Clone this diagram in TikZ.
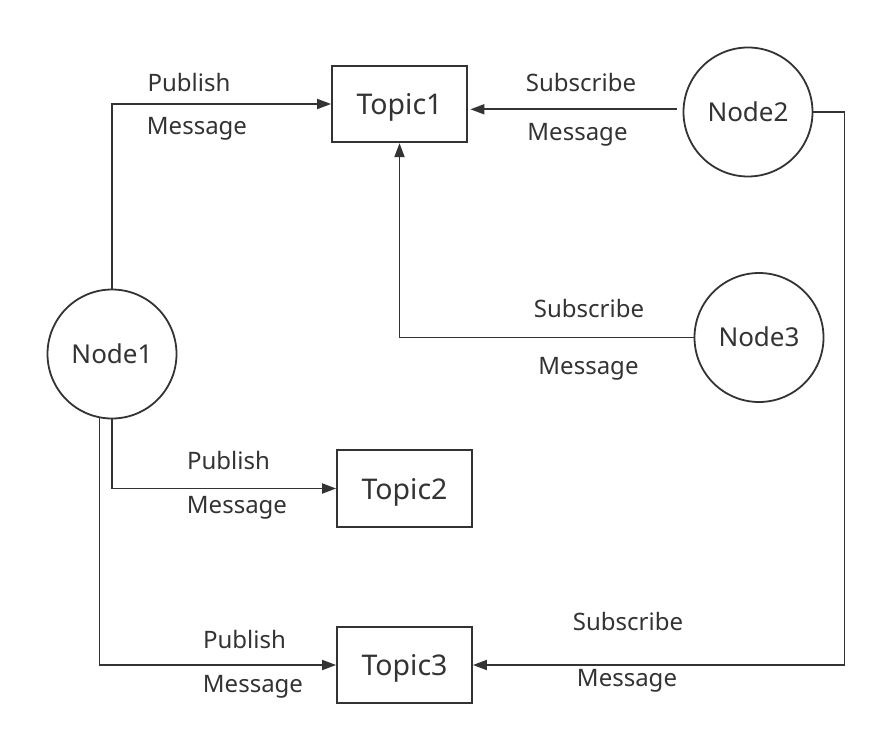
\documentclass[tikz,border=0pt]{standalone}
\usepackage{fontspec}
\setmainfont{Noto Sans}
\usetikzlibrary{arrows.meta}
\definecolor{ink}{HTML}{333333}
\begin{document}
\begin{tikzpicture}[x=1pt,y=-1pt,
  line width=1.8pt, draw=ink, text=ink,
  topicbox/.style={draw=ink, rectangle, minimum width=135pt, minimum height=76.5pt, inner sep=0pt,
    font=\fontsize{28.5}{32}\selectfont, text height=21.6pt, text depth=0pt},
  nodecirc/.style={draw=ink, circle, minimum size=129pt, inner sep=0pt,
    font=\fontsize{26}{30}\selectfont, text height=18.4pt, text depth=0pt},
  lbl/.style={anchor=base, inner sep=0pt, font=\fontsize{24}{28}\selectfont},
  arr/.style={draw=ink, -{Triangle[length=14pt,width=10pt]}}
]
\useasboundingbox (0,0) rectangle (874,735);
\fill[white] (0,0) rectangle (874,735);

\node[topicbox] (t1) at (399.5,104) {Topic1};
\node[topicbox] (t2) at (404.5,488.5) {Topic2};
\node[topicbox] (t3) at (404.5,665) {Topic3};

\node[nodecirc] (n1) at (112,354) {Node1};
\node[nodecirc] (n2) at (748,112) {Node2};
\node[nodecirc] (n3) at (759,337.5) {Node3};

% Node1 publishes
\draw[arr] (n1.north) |- (t1.west);
\draw[arr] (n1.south) |- (t2.west);
\draw[arr] (n1.-101) |- (t3.west);

% Node2 subscribes
\draw[arr, shorten >=2.5pt] ([xshift=-6pt,yshift=2.7pt]n2.west) coordinate (s2) -- (s2 -| t1.east);
\draw[arr] (n2.east) -- ++(31,0) coordinate (c2) |- (t3.east);

% Node3 subscribes
\draw[arr] (n3.west) -| (t1.south);

% labels
\node[lbl] (p1) at (189,92) {Publish};
\node[lbl] (m1) at (197,135) {Message};
\node[lbl] (p2) at (228.5,469.3) {Publish};
\node[lbl] (m2) at (237,513.3) {Message};
\node[lbl] (p3) at (244.5,648.7) {Publish};
\node[lbl] (m3) at (253,692.7) {Message};

\node[lbl] (s1) at (581,91.7) {Subscribe};
\node[lbl] (sm1) at (577.5,140.7) {Message};
\node[lbl] (s3l) at (589,317.3) {Subscribe};
\node[lbl] (sm3) at (588.5,374) {Message};
\node[lbl] (s4) at (628,630) {Subscribe};
\node[lbl] (sm4) at (627,686.7) {Message};
\end{tikzpicture}
\end{document}
